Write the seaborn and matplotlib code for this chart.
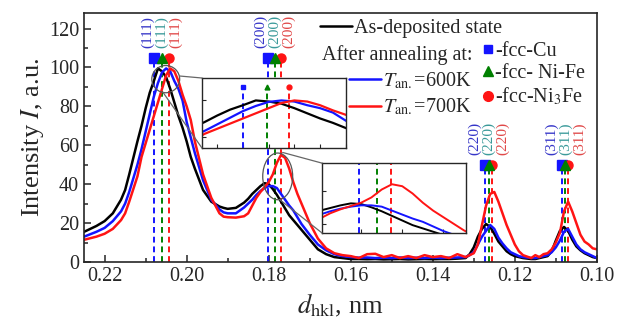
import matplotlib
matplotlib.use("Agg")
import matplotlib.pyplot as plt
import seaborn as sns
from matplotlib.patches import Ellipse, ConnectionPatch
from matplotlib.lines import Line2D
from matplotlib.ticker import MultipleLocator, FormatStrFormatter

# interplanar spacing d_hkl, nm
d = [0.225, 0.222, 0.220, 0.218, 0.216, 0.215, 0.214, 0.212, 0.211, 0.210,
     0.209, 0.208, 0.207, 0.206, 0.205, 0.204, 0.203, 0.202, 0.201, 0.200,
     0.199, 0.198, 0.196, 0.194, 0.192, 0.191, 0.190, 0.188, 0.186, 0.185,
     0.184, 0.183, 0.182, 0.181, 0.180, 0.179, 0.178, 0.177, 0.176, 0.175,
     0.174, 0.173, 0.172, 0.170, 0.168, 0.166, 0.164, 0.162, 0.160, 0.158,
     0.156, 0.154, 0.152, 0.150, 0.148, 0.146, 0.144, 0.142, 0.140, 0.138,
     0.136, 0.134, 0.132, 0.131, 0.130, 0.129, 0.128, 0.127, 0.126, 0.125,
     0.124, 0.123, 0.122, 0.121, 0.120, 0.119, 0.118, 0.116, 0.115, 0.114,
     0.113, 0.112, 0.111, 0.110, 0.109, 0.108, 0.107, 0.106, 0.105, 0.104,
     0.103, 0.102, 0.101, 0.100]

as_deposited = [15.5, 18.5, 21, 25, 32, 37, 45, 62, 70, 79,
                87, 93, 99.5, 98, 95, 89, 82, 75, 69, 62,
                54, 48, 37, 31, 28.5, 27.8, 27.3, 27.8, 30.5, 32.5,
                35, 37, 39, 40.5, 40, 37.5, 34.5, 31, 27.5, 24,
                21.5, 19, 16.5, 11.5, 6.5, 4, 2.5, 2, 1.5, 1.5,
                1.4, 1.5, 1.3, 1.4, 1.5, 1.3, 1.4, 1.5, 1.4, 1.5,
                1.5, 1.7, 2, 4, 7.5, 13, 17, 19.5, 18, 14.5,
                10.5, 8, 5.5, 4, 3, 2.5, 2, 1.5, 1.5, 2,
                2.5, 3, 5.5, 11, 16, 18, 16, 11.5, 8, 6,
                4.5, 3.5, 2.5, 2]

t600 = [13, 15.5, 17.5, 21, 26, 30, 36, 50, 58, 67,
        76, 85, 92, 97.5, 99.5, 98, 93, 89, 83, 72,
        64, 56, 42, 32, 27, 25.5, 25, 25, 28, 30,
        32, 34.5, 36.5, 38, 39, 39, 38, 35, 32, 29,
        26.5, 23, 19.5, 14, 9, 6, 4, 3, 2.5, 2.2,
        2.3, 2, 2.2, 2, 2.3, 2, 2.2, 2, 2.3, 2,
        2.2, 2.3, 2.5, 3.5, 5, 9, 13, 16, 19, 17,
        12.5, 9.5, 7, 5, 4, 3, 2.5, 2, 2, 2.5,
        3, 3.5, 5, 7.5, 11, 15.5, 17, 13, 9, 6.5,
        5, 4, 3, 2]

t700 = [11.4, 13, 14.5, 17, 21.5, 25, 31, 44, 54, 61,
        68, 75, 82, 89, 96, 99.5, 98, 93, 86, 80,
        73, 62, 45, 33, 25, 23.3, 23, 22.8, 23.5, 25,
        29, 33, 36, 38.5, 41, 45, 51, 55, 53.5, 48,
        41, 35, 30, 20, 12, 7, 4.5, 3.5, 3, 2,
        4, 4.2, 2.5, 3.5, 2, 3, 2, 3.5, 2.5, 3,
        2, 4, 2.5, 3.5, 4.5, 9, 19, 29, 35, 36,
        31, 25, 19, 14, 9, 5.5, 3.5, 2, 3.5, 2.5,
        4, 4.5, 6.5, 10, 15, 26, 31, 26, 20, 14,
        10.5, 9, 7, 6.5]

# reflection positions
hkl = ["(111)", "(200)", "(220)", "(311)"]
pos_cu = [0.2080, 0.1802, 0.1273, 0.1085]
pos_nife = [0.2061, 0.1785, 0.1263, 0.1077]
pos_ni3fe = [0.2044, 0.1771, 0.1256, 0.1070]
marker_level = [105, 105, 50, 50]

BLUE = "#1414ff"
GREEN = "#008000"
RED = "#ff1414"
LBL_COLORS = ["#3535c8", "#3a9a9a", "#e04848"]

sns.set_style("ticks")
plt.rcParams["font.family"] = ["Liberation Serif", "DejaVu Serif"]
plt.rcParams["mathtext.fontset"] = "stix"

fig = plt.figure(figsize=(6.23, 3.25), dpi=100)
ax = fig.add_axes([0.135, 0.194, 0.823, 0.766])


def draw_curves(a, lw):
    sns.lineplot(x=d, y=as_deposited, ax=a, color="black", lw=lw)
    sns.lineplot(x=d, y=t600, ax=a, color=BLUE, lw=lw)
    sns.lineplot(x=d, y=t700, ax=a, color=RED, lw=lw)


def draw_refs(a, xs, bottom, top, ms, with_markers=True):
    for x, c, m in zip(xs, [BLUE, GREEN, RED], ["s", "o", "^"]):
        a.vlines(x, bottom, top, colors=c, linestyles=(0, (3, 2)), lw=1.4, zorder=1)
    if with_markers:
        a.plot(xs[0], top, "s", color=BLUE, ms=ms, zorder=4)
        a.plot(xs[2], top, "o", color=RED, ms=ms, zorder=4)
        a.plot(xs[1], top, "^", color=GREEN, ms=ms, zorder=5)


# dashed reference lines + markers
for i in range(len(hkl)):
    draw_refs(ax, [pos_cu[i], pos_nife[i], pos_ni3fe[i]], 0, marker_level[i], 6.5)
    for dx, c in zip([-10, 0, 10], LBL_COLORS):
        ax.annotate(hkl[i], xy=(pos_nife[i], marker_level[i]), xytext=(dx, 7),
                    textcoords="offset points", rotation=90, ha="center",
                    va="bottom", color=c, fontsize=11)

draw_curves(ax, 1.8)

ax.set_xlim(0.225, 0.10)
ax.set_ylim(0, 128)
ax.xaxis.set_major_locator(MultipleLocator(0.02))
ax.xaxis.set_minor_locator(MultipleLocator(0.01))
ax.xaxis.set_major_formatter(FormatStrFormatter("%.2f"))
ax.yaxis.set_major_locator(MultipleLocator(20))
ax.yaxis.set_minor_locator(MultipleLocator(10))
ax.tick_params(which="both", direction="in", labelsize=14.5, width=1.1)
ax.tick_params(which="major", length=5)
ax.tick_params(which="minor", length=3)
for s in ax.spines.values():
    s.set_linewidth(1.2)
ax.set_xlabel(r"$d_{\mathrm{hkl}}$, nm", fontsize=19, labelpad=4)
ax.set_ylabel(r"Intensity $I$, a.u.", fontsize=19, labelpad=2)

# zoom circles
ax.add_patch(Ellipse((0.2051, 94), 0.0068, 14, fill=False, ec="#555555", lw=0.9, zorder=6))
ax.add_patch(Ellipse((0.1778, 44), 0.0073, 24, fill=False, ec="#555555", lw=0.9, zorder=6))

# inset 1: (111) peak
ins1 = fig.add_axes([0.324, 0.545, 0.231, 0.215])
draw_curves(ins1, 1.6)
draw_refs(ins1, [pos_cu[0], pos_nife[0], pos_ni3fe[0]], 35, 117.6, 3.5)
ins1.set_xlim(0.2112, 0.2000)
ins1.set_ylim(35, 130)
ins1.xaxis.set_major_locator(MultipleLocator(0.002))
ins1.yaxis.set_major_locator(MultipleLocator(50))

# inset 2: (200) peak
ins2 = fig.add_axes([0.517, 0.283, 0.231, 0.215])
draw_curves(ins2, 1.4)
draw_refs(ins2, [pos_cu[1], pos_nife[1], pos_ni3fe[1]], 18, 71, 3, with_markers=False)
ins2.set_xlim(0.1838, 0.1698)
ins2.set_ylim(18, 71)
ins2.xaxis.set_major_locator(MultipleLocator(0.004))
ins2.yaxis.set_major_locator(MultipleLocator(25))

for ia in (ins1, ins2):
    ia.set_facecolor("white")
    ia.tick_params(which="both", direction="in", length=3, labelbottom=False, labelleft=False)
    ia.set_xlabel("")
    ia.set_ylabel("")
    for s in ia.spines.values():
        s.set_linewidth(1.0)

for xyA, xyB, ia in [((0.2017, 95.6), (0, 1), ins1), ((0.2058, 87.3), (0, 0), ins1),
                     ((0.1766, 56.3), (0, 1), ins2), ((0.1773, 32), (0, 0), ins2)]:
    con = ConnectionPatch(xyA=xyA, coordsA=ax.transData, xyB=xyB, coordsB=ia.transAxes,
                          color="#666666", lw=0.9)
    fig.add_artist(con)

# legends
leg1 = ax.legend([Line2D([], [], color="black", lw=1.8)], ["As-deposited state"],
                 loc="upper left", bbox_to_anchor=(0.46, 0.975), frameon=False,
                 fontsize=14.5, handlelength=1.6, handletextpad=0.1,
                 borderpad=0, borderaxespad=0)
ax.add_artist(leg1)
ax.text(0.464, 0.831, "After annealing at:", transform=ax.transAxes,
        fontsize=14.5, va="center")
leg2 = ax.legend([Line2D([], [], color=BLUE, lw=1.8), Line2D([], [], color=RED, lw=1.8)],
                 [r"$T_{\mathrm{an.}}$=600K", r"$T_{\mathrm{an.}}$=700K"],
                 loc="upper left", bbox_to_anchor=(0.517, 0.77), frameon=False,
                 fontsize=14.5, handlelength=1.6, handletextpad=0.1,
                 labelspacing=0.3, borderpad=0, borderaxespad=0)
ax.add_artist(leg2)
mk_handles = [Line2D([], [], ls="", marker="s", color=BLUE, ms=6),
              Line2D([], [], ls="", marker="^", color=GREEN, ms=7),
              Line2D([], [], ls="", marker="o", color=RED, ms=7)]
ax.legend(mk_handles, ["-fcc-Cu", "-fcc- Ni-Fe", r"-fcc-Ni$_3$Fe"],
          loc="upper left", bbox_to_anchor=(0.776, 0.885), frameon=False,
          fontsize=14.5, handlelength=0.6, handletextpad=0.05,
          labelspacing=0.15, borderpad=0, borderaxespad=0)

fig.savefig("out.png", dpi=100)
